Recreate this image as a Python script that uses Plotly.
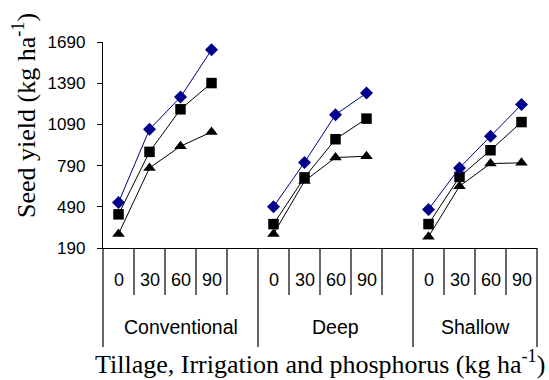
import plotly.graph_objects as go

groups = ["Conventional", "Deep", "Shallow"]
levels = ["0", "30", "60", "90"]
y_ticks = [190, 490, 790, 1090, 1390, 1690]

# values per group, in order of levels
diamond_vals = {"Conventional": [522, 1054, 1289, 1633],
                "Deep": [490, 813, 1161, 1318],
                "Shallow": [471, 773, 1004, 1234]}
square_vals = {"Conventional": [435, 890, 1200, 1391],
               "Deep": [364, 704, 982, 1132],
               "Shallow": [364, 708, 902, 1107]}
triangle_vals = {"Conventional": [292, 773, 931, 1035],
                 "Deep": [292, 677, 849, 858],
                 "Shallow": [272, 640, 805, 810]}

SLOTS_PER_GROUP = len(levels) + 1  # one blank slot between groups
n_slots = SLOTS_PER_GROUP * (len(groups) - 1) + len(levels)


def build(series):
    xs, ys = [], []
    for gi, g in enumerate(groups):
        for li, v in enumerate(series[g]):
            xs.append(gi * SLOTS_PER_GROUP + li)
            ys.append(v)
        xs.append(None)
        ys.append(None)
    return xs, ys


fig = go.Figure()
specs = [
    (triangle_vals, "triangle-up", "black", "black", 11),
    (square_vals, "square", "black", "black", 10.5),
    (diamond_vals, "diamond", "#00008B", "#000080", 10),
]
for vals, sym, mcol, lcol, size in specs:
    xs, ys = build(vals)
    fig.add_trace(go.Scatter(x=xs, y=ys, mode="lines+markers",
                             connectgaps=False,
                             line=dict(color=lcol, width=1),
                             marker=dict(symbol=sym, size=size, color=mcol,
                                         line=dict(width=0)),
                             showlegend=False, hoverinfo="skip"))

W, H = 549, 380
L, R, T, B = 103, 12, 42, 132
plot_h = H - T - B
plot_w = W - L - R


def px_to_paper_y(dy):
    # dy = pixels below the x-axis line
    return -dy / plot_h


def xpaper(xval):
    return (xval + 0.5) / n_slots


shapes = []
annotations = []
inner_drop = 47
outer_drop = 99
for k in range(n_slots + 1):
    boundary = k - 0.5
    is_group = (k % SLOTS_PER_GROUP == 0) or k == n_slots
    drop = outer_drop if is_group else inner_drop
    shapes.append(dict(type="line", xref="paper", yref="paper",
                       x0=xpaper(boundary), x1=xpaper(boundary),
                       y0=0, y1=px_to_paper_y(drop),
                       line=dict(color="black", width=1.2)))

for gi, g in enumerate(groups):
    for li, lv in enumerate(levels):
        annotations.append(dict(x=gi * SLOTS_PER_GROUP + li, xref="x",
                                y=px_to_paper_y(32), yref="paper",
                                text=lv, showarrow=False,
                                xanchor="center", yanchor="middle",
                                font=dict(family="Liberation Sans", size=18, color="black")))
    start = gi * SLOTS_PER_GROUP - 0.5
    end = min(start + SLOTS_PER_GROUP, n_slots - 0.5)
    annotations.append(dict(x=(start + end) / 2, xref="x",
                            y=px_to_paper_y(79), yref="paper",
                            text=g, showarrow=False,
                            xanchor="center", yanchor="middle",
                            font=dict(family="Liberation Sans", size=19.5, color="black")))

annotations.append(dict(x=(320 - L) / plot_w, xref="paper", y=px_to_paper_y(381 - (H - B)), yref="paper",
                        text="Tillage, Irrigation and phosphorus (kg ha<sup>-1</sup>)",
                        showarrow=False, xanchor="center", yanchor="bottom",
                        font=dict(family="Liberation Serif", size=26, color="black")))
annotations.append(dict(x=-78 / plot_w, xref="paper", y=(H - B - 116) / plot_h, yref="paper",
                        text="Seed yield (kg ha<sup>-1</sup>)", textangle=-90,
                        showarrow=False, xanchor="center", yanchor="middle",
                        font=dict(family="Liberation Serif", size=26, color="black")))

fig.update_layout(
    width=W, height=H,
    margin=dict(l=L, r=R, t=T, b=B),
    paper_bgcolor="white", plot_bgcolor="white",
    shapes=shapes, annotations=annotations,
    xaxis=dict(range=[-0.5, n_slots - 0.5], showticklabels=False, ticks="",
               showgrid=False, zeroline=False, showline=True,
               linecolor="black", linewidth=1.2),
    yaxis=dict(range=[y_ticks[0], y_ticks[-1]], tickvals=y_ticks,
               ticks="outside", ticklen=5, tickcolor="black", tickwidth=1,
               showgrid=False, zeroline=False, showline=True,
               linecolor="black", linewidth=1.2, ticklabelstandoff=8,
               tickfont=dict(family="Liberation Sans", size=17, color="black")),
)

fig.write_html("out.html",
               config={"displayModeBar": False, "staticPlot": True},
               post_script="document.body.style.margin='0';document.body.style.overflow='hidden';")
